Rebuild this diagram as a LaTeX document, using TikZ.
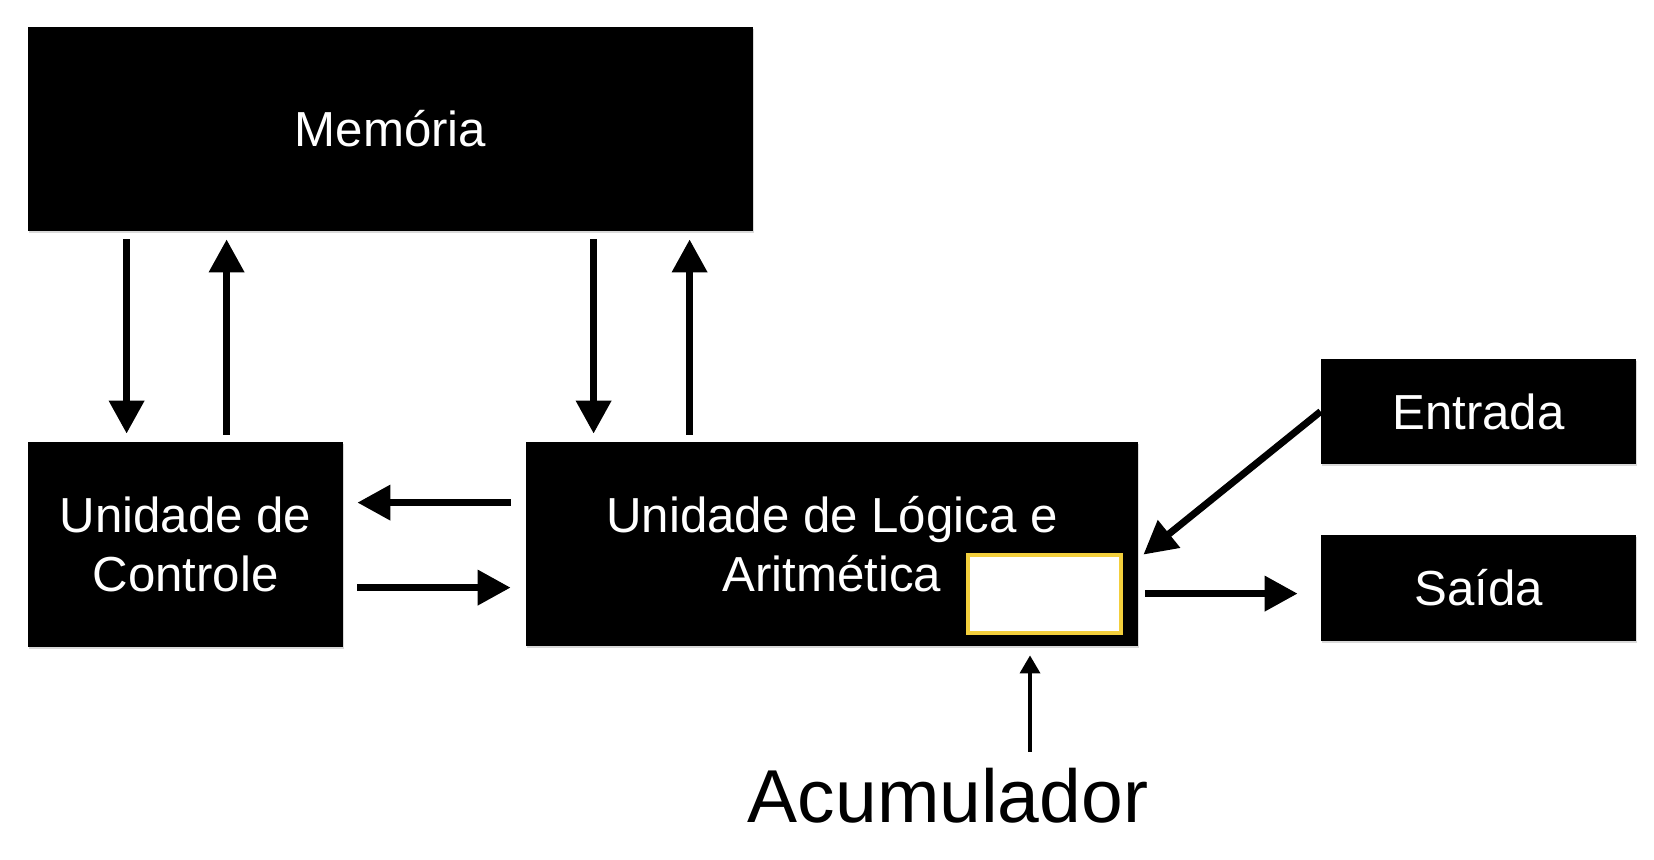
\documentclass[tikz,border=0pt]{standalone}
\usepackage{fontspec}
\setmainfont{Liberation Sans}
\usetikzlibrary{arrows.meta,shadows,positioning}
\definecolor{accyellow}{RGB}{243,207,60}
\begin{document}
\begin{tikzpicture}[
            x=0.5pt, y=-0.5pt,
            box/.style={fill=black, text=white, inner sep=0pt, align=center,
                font=\fontsize{24.6}{29.5}\selectfont,
                drop shadow={shadow xshift=0.5pt, shadow yshift=-1.2pt, opacity=0.3}},
            arr/.style={line width=3.5pt, -{Triangle[width=17pt,length=16.5pt]}},
            thinarr/.style={line width=1.75pt, -{Triangle[width=10pt,length=9pt]}}
        ]
            \useasboundingbox (0,0) rectangle (1654,860);

            % 方框
            \node[box, minimum width=362.5pt, minimum height=102pt] (mem) at (390.5,129) {Memória};
            \node[box, minimum width=157.5pt, minimum height=102.5pt] (ctrl) at (185.5,544.5) {Unidade de\\Controle};
            \node[box, minimum width=306pt, minimum height=102pt] (alu) at (832,544) {Unidade de Lógica e\\Aritmética};
            \node[box, minimum width=157.5pt, minimum height=52.5pt] (ent) at (1478.5,411.5) {Entrada};
            \node[box, minimum width=157.5pt, minimum height=53pt] (sai) at (1478.5,588) {Saída};
            \node[draw=accyellow, line width=2pt, fill=white, inner sep=0pt,
                minimum width=76.5pt, minimum height=39pt] (acc) at (1044.5,594) {};
            \node[font=\fontsize{37.5}{45}\selectfont, anchor=base] (acclbl) at (948,822) {Acumulador};

            % 存储器与控制器、运算器之间
            \draw[arr, shorten <=4pt, shorten >=4pt] ([shift={(99,0)}]mem.south west) -- ([shift={(99,0)}]ctrl.north west);
            \draw[arr, shorten <=3.5pt, shorten >=4pt] ([shift={(199,0)}]ctrl.north west) -- ([shift={(199,0)}]mem.south west);
            \draw[arr, shorten <=4pt, shorten >=4pt] ([shift={(566,0)}]mem.south west) -- ([shift={(68,0)}]alu.north west);
            \draw[arr, shorten <=3.5pt, shorten >=4pt] ([shift={(164,0)}]alu.north west) -- ([shift={(662,0)}]mem.south west);

            \draw[arr, shorten <=7.5pt, shorten >=7pt] ([shift={(0,61)}]alu.north west) -- ([shift={(0,61)}]ctrl.north east);
            \draw[arr, shorten <=7pt, shorten >=7.5pt] ([shift={(0,146)}]ctrl.north east) -- ([shift={(0,146)}]alu.north west);

            % 输入输出
            \draw[arr] (ent.west) -- ([shift={(5,113)}]alu.north east);
            \draw[arr, shorten <=3.5pt, shorten >=11.5pt] ([shift={(0,152)}]alu.north east) -- ([shift={(0,59)}]sai.north west);

            \draw[thinarr, shorten <=4.5pt, shorten >=4.5pt] ([shift={(82,0)}]acclbl.north) -- ([shift={(198,0)}]alu.south);
        \end{tikzpicture}
\end{document}
